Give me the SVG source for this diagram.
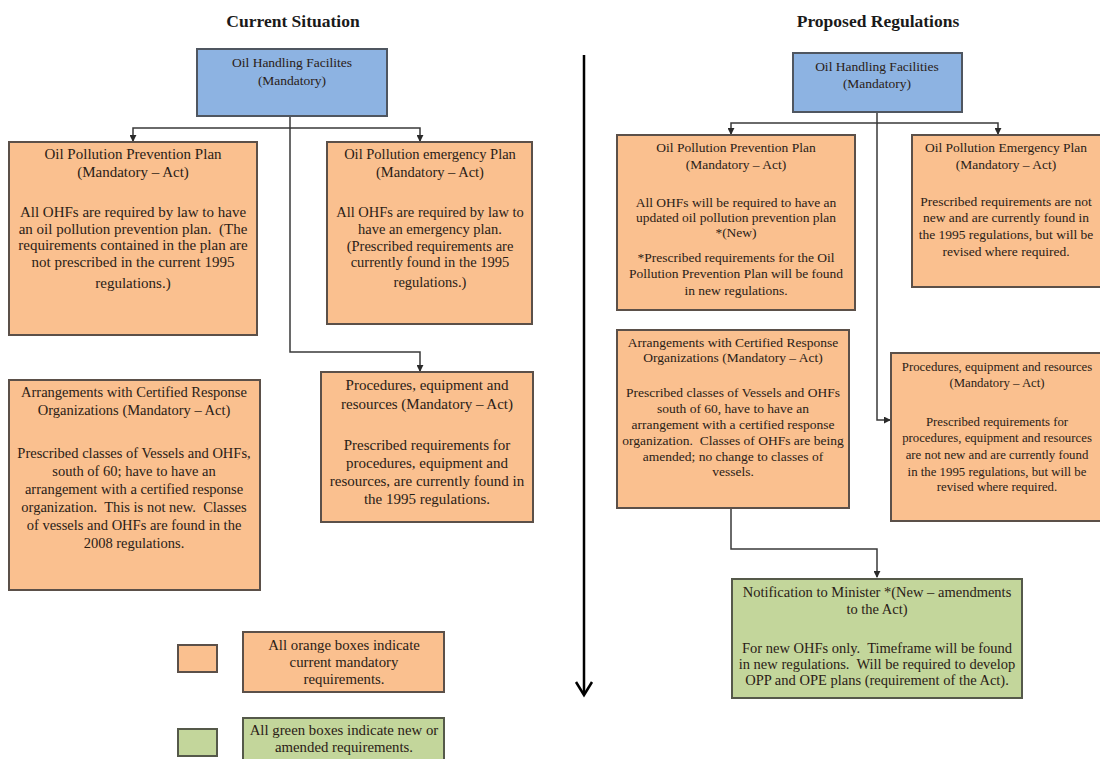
<svg xmlns="http://www.w3.org/2000/svg" width="1100" height="759" viewBox="0 0 1100 759">
<style>
.bg{fill:#ffffff}
.org{fill:#FAC08F;stroke:#5b5049;stroke-width:2}
.blu{fill:#8DB3E2;stroke:#4f5660;stroke-width:2}
.grn{fill:#C3D69B;stroke:#55594a;stroke-width:2}
text{font-family:"Liberation Serif","Times New Roman",serif;fill:#2a2016;text-anchor:middle;white-space:pre}
.t{font-size:17.5px;font-weight:bold;fill:#1a1a1a}
.l{font-size:15px}
.l2{font-size:14.5px}
.r{font-size:13.5px}
.p{font-size:12.8px}
.n{font-size:14.5px}
.b{font-size:13.5px}
.g{font-size:14.8px}
.c{fill:none;stroke:#3a3a3a;stroke-width:1.5}
</style>
<defs>
<marker id="ah" viewBox="0 0 8 8" refX="7" refY="4" markerWidth="7" markerHeight="7" markerUnits="userSpaceOnUse" orient="auto">
<path d="M0,0 L8,4 L0,8 Z" fill="#2a2a2a"/>
</marker>
</defs>
<rect class="bg" x="0" y="0" width="1100" height="759"/>

<text class="t" x="293" y="27">Current Situation</text>
<text class="t" x="878" y="27">Proposed Regulations</text>

<g id="connectors">
<path class="c" d="M290,116 V128 H133 V141" marker-end="url(#ah)"/>
<path class="c" d="M290,128 H420 V141" marker-end="url(#ah)"/>
<path class="c" d="M290,128 V352 H420 V371" marker-end="url(#ah)"/>
<path class="c" d="M877,112 V123 H731 V134" marker-end="url(#ah)"/>
<path class="c" d="M877,123 H998 V134" marker-end="url(#ah)"/>
<path class="c" d="M877,123 V420 H890" marker-end="url(#ah)"/>
<path class="c" d="M731,508 V549 H877 V577" marker-end="url(#ah)"/>
<path d="M584,55 V694" fill="none" stroke="#000" stroke-width="2.5"/>
<path d="M576,682 L584,695 L592,682" fill="none" stroke="#000" stroke-width="2.5"/>
</g>

<g id="ohf-current">
<rect class="blu" x="197" y="49" width="190" height="67"/>
<text class="b" x="292" y="67">Oil Handling Facilites</text>
<text class="b" x="292" y="85">(Mandatory)</text>
</g>

<g id="oppp-current">
<rect class="org" x="9" y="142" width="248" height="193"/>
<text class="l" x="133" y="159">Oil Pollution Prevention Plan</text>
<text class="l" x="133" y="177">(Mandatory – Act)</text>
<text class="l" x="133" y="217">All OHFs are required by law to have</text>
<text class="l" x="133" y="234">an oil pollution prevention plan.  (The</text>
<text class="l" x="133" y="250">requirements contained in the plan are</text>
<text class="l" x="133" y="267">not prescribed in the current 1995</text>
<text class="l" x="133" y="288">regulations.)</text>
</g>

<g id="opep-current">
<rect class="org" x="327" y="142" width="205" height="182"/>
<text class="l2" x="430" y="159">Oil Pollution emergency Plan</text>
<text class="l2" x="430" y="177">(Mandatory – Act)</text>
<text class="l2" x="430" y="217">All OHFs are required by law to</text>
<text class="l2" x="430" y="234">have an emergency plan.</text>
<text class="l2" x="430" y="251">(Prescribed requirements are</text>
<text class="l2" x="430" y="267">currently found in the 1995</text>
<text class="l2" x="430" y="287">regulations.)</text>
</g>

<g id="arrangements-current">
<rect class="org" x="9" y="380" width="251" height="210"/>
<text class="l2" x="134" y="397">Arrangements with Certified Response</text>
<text class="l2" x="134" y="415">Organizations (Mandatory – Act)</text>
<text class="l2" x="134" y="458">Prescribed classes of Vessels and OHFs,</text>
<text class="l2" x="134" y="476">south of 60; have to have an</text>
<text class="l2" x="134" y="494">arrangement with a certified response</text>
<text class="l2" x="134" y="512">organization.  This is not new.  Classes</text>
<text class="l2" x="134" y="530">of vessels and OHFs are found in the</text>
<text class="l2" x="134" y="548">2008 regulations.</text>
</g>

<g id="procedures-current">
<rect class="org" x="321" y="372" width="212" height="150"/>
<text class="l" x="427" y="390">Procedures, equipment and</text>
<text class="l" x="427" y="409">resources (Mandatory – Act)</text>
<text class="l" x="427" y="450">Prescribed requirements for</text>
<text class="l" x="427" y="468">procedures, equipment and</text>
<text class="l" x="427" y="486">resources, are currently found in</text>
<text class="l" x="427" y="504">the 1995 regulations.</text>
</g>

<g id="legend-orange">
<rect class="org" x="178" y="645" width="39" height="27"/>
<rect class="org" x="243" y="632" width="201" height="60"/>
<text class="g" x="344" y="650">All orange boxes indicate</text>
<text class="g" x="344" y="667">current mandatory</text>
<text class="g" x="344" y="684">requirements.</text>
</g>

<g id="legend-green">
<rect class="grn" x="178" y="729" width="39" height="27"/>
<rect class="grn" x="243" y="718" width="201" height="50"/>
<text class="g" x="344" y="735">All green boxes indicate new or</text>
<text class="g" x="344" y="752">amended requirements.</text>
</g>

<g id="ohf-proposed">
<rect class="blu" x="793" y="53" width="169" height="59"/>
<text class="b" x="877" y="71">Oil Handling Facilities</text>
<text class="b" x="877" y="88">(Mandatory)</text>
</g>

<g id="oppp-proposed">
<rect class="org" x="617" y="135" width="238" height="175"/>
<text class="r" x="736" y="152">Oil Pollution Prevention Plan</text>
<text class="r" x="736" y="169">(Mandatory – Act)</text>
<text class="r" x="736" y="207">All OHFs will be required to have an</text>
<text class="r" x="736" y="222">updated oil pollution prevention plan</text>
<text class="r" x="736" y="237">*(New)</text>
<text class="r" x="736" y="262">*Prescribed requirements for the Oil</text>
<text class="r" x="736" y="278">Pollution Prevention Plan will be found</text>
<text class="r" x="736" y="295">in new regulations.</text>
</g>

<g id="opep-proposed">
<rect class="org" x="912" y="135" width="192" height="152"/>
<text class="r" x="1006" y="152">Oil Pollution Emergency Plan</text>
<text class="r" x="1006" y="169">(Mandatory – Act)</text>
<text class="r" x="1006" y="206">Prescribed requirements are not</text>
<text class="r" x="1006" y="222">new and are currently found in</text>
<text class="r" x="1006" y="239">the 1995 regulations, but will be</text>
<text class="r" x="1006" y="256">revised where required.</text>
</g>

<g id="procedures-proposed">
<rect class="org" x="891" y="353" width="215" height="168"/>
<text class="p" x="997" y="371">Procedures, equipment and resources</text>
<text class="p" x="997" y="387">(Mandatory – Act)</text>
<text class="p" x="997" y="426">Prescribed requirements for</text>
<text class="p" x="997" y="442">procedures, equipment and resources</text>
<text class="p" x="997" y="459">are not new and are currently found</text>
<text class="p" x="997" y="476">in the 1995 regulations, but will be</text>
<text class="p" x="997" y="491">revised where required.</text>
</g>

<g id="arrangements-proposed">
<rect class="org" x="617" y="330" width="232" height="178"/>
<text class="r" x="733" y="347">Arrangements with Certified Response</text>
<text class="r" x="733" y="362">Organizations (Mandatory – Act)</text>
<text class="r" x="733" y="397">Prescribed classes of Vessels and OHFs</text>
<text class="r" x="733" y="413">south of 60, have to have an</text>
<text class="r" x="733" y="429">arrangement with a certified response</text>
<text class="r" x="733" y="445">organization.  Classes of OHFs are being</text>
<text class="r" x="733" y="461">amended; no change to classes of</text>
<text class="r" x="733" y="476">vessels.</text>
</g>

<g id="notification-proposed">
<rect class="grn" x="732" y="579" width="290" height="119"/>
<text class="n" x="877" y="597">Notification to Minister *(New – amendments</text>
<text class="n" x="877" y="614">to the Act)</text>
<text class="n" x="877" y="653">For new OHFs only.  Timeframe will be found</text>
<text class="n" x="877" y="669">in new regulations.  Will be required to develop</text>
<text class="n" x="877" y="685">OPP and OPE plans (requirement of the Act).</text>
</g>
</svg>
